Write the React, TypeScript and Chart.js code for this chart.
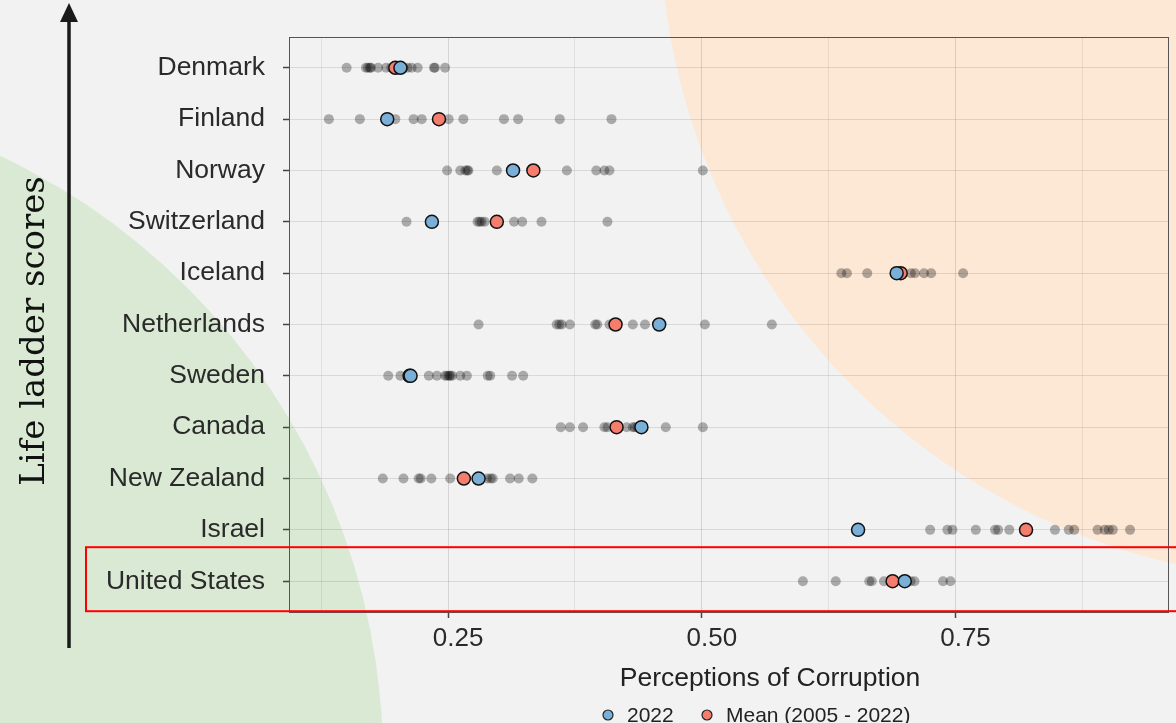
import React, { useEffect, useRef } from 'react';
import { Chart, registerables } from 'chart.js';
Chart.register(...registerables);

const countries = ['Denmark', 'Finland', 'Norway', 'Switzerland', 'Iceland', 'Netherlands', 'Sweden', 'Canada', 'New Zealand', 'Israel', 'United States'];

const value2022 = [0.203, 0.19, 0.314, 0.234, 0.692, 0.458, 0.213, 0.4405, 0.28, 0.654, 0.7];
const meanValue = [0.198, 0.241, 0.334, 0.298, 0.696, 0.415, 0.212, 0.416, 0.2655, 0.8195, 0.688];

const yearsDenmark = [0.15, 0.169, 0.171, 0.173, 0.174, 0.181, 0.189, 0.194, 0.199, 0.206, 0.21, 0.214, 0.22, 0.236, 0.237, 0.247];
const yearsFinland = [0.1325, 0.163, 0.19, 0.198, 0.216, 0.224, 0.241, 0.2505, 0.265, 0.305, 0.319, 0.36, 0.411];
const yearsNorway = [0.249, 0.262, 0.267, 0.269, 0.27, 0.298, 0.314, 0.334, 0.367, 0.396, 0.404, 0.409, 0.501];
const yearsSwitzerland = [0.209, 0.234, 0.279, 0.281, 0.283, 0.286, 0.298, 0.315, 0.323, 0.342, 0.407];
const yearsIceland = [0.6375, 0.643, 0.663, 0.692, 0.706, 0.71, 0.719, 0.726, 0.7575];
const yearsNetherlands = [0.28, 0.357, 0.3596, 0.362, 0.37, 0.395, 0.397, 0.409, 0.415, 0.432, 0.444, 0.458, 0.503, 0.569];
const yearsSweden = [0.191, 0.203, 0.213, 0.231, 0.239, 0.247, 0.249, 0.251, 0.252, 0.254, 0.262, 0.2685, 0.289, 0.2915, 0.313, 0.324];
const yearsCanada = [0.361, 0.37, 0.383, 0.404, 0.407, 0.416, 0.426, 0.432, 0.434, 0.4365, 0.4405, 0.4645, 0.501];
const yearsNewZealand = [0.1856, 0.206, 0.221, 0.223, 0.2335, 0.252, 0.2655, 0.28, 0.2885, 0.292, 0.294, 0.311, 0.3196, 0.333];
const yearsIsrael = [0.6536, 0.725, 0.742, 0.747, 0.77, 0.789, 0.792, 0.803, 0.848, 0.8616, 0.867, 0.89, 0.897, 0.901, 0.905, 0.922];
const yearsUnitedStates = [0.5996, 0.632, 0.665, 0.6675, 0.6795, 0.688, 0.7, 0.7058, 0.7096, 0.7377, 0.745];

const yearlyValues = [yearsDenmark, yearsFinland, yearsNorway, yearsSwitzerland, yearsIceland, yearsNetherlands, yearsSweden, yearsCanada, yearsNewZealand, yearsIsrael, yearsUnitedStates];

const xGridValues = [0.125, 0.25, 0.375, 0.5, 0.625, 0.75, 0.875];
const xTickValues = [0.25, 0.5, 0.75];
const xTickLabels = ['0.25', '0.50', '0.75'];

const legendLabels = ['2022', 'Mean (2005 - 2022)'];
const xTitle = 'Perceptions of Corruption';
const yTitle = 'Life ladder scores';
const highlighted = 'United States';

const BLUE = '#7aafd8';
const RED = '#f57d6d';
const SANS = "'Liberation Sans', Arial, Helvetica, sans-serif";

const decorPlugin = {
  id: 'decor',
  beforeDraw(chart: any) {
    const { ctx, width, height } = chart;
    ctx.save();
    ctx.fillStyle = '#f2f2f2';
    ctx.fillRect(0, 0, width, height);
    ctx.fillStyle = '#d9e9d3';
    ctx.beginPath();
    ctx.arc(-285, 760, 668, 0, Math.PI * 2);
    ctx.fill();
    ctx.fillStyle = '#fde7d5';
    ctx.beginPath();
    ctx.arc(1320, -80, 660, 0, Math.PI * 2);
    ctx.fill();
    ctx.restore();
  },
  afterDraw(chart: any) {
    const { ctx, chartArea } = chart;
    const yScale = chart.scales.y;
    ctx.save();
    // panel border
    ctx.strokeStyle = '#555';
    ctx.lineWidth = 1;
    ctx.strokeRect(Math.round(chartArea.left) + 0.5, Math.round(chartArea.top) + 0.5, Math.round(chartArea.right - chartArea.left), Math.round(chartArea.bottom - chartArea.top));

    // highlight rectangle
    const hi = countries.indexOf(highlighted);
    const yc = yScale.getPixelForValue(hi);
    ctx.strokeStyle = '#ff0000';
    ctx.lineWidth = 2;
    ctx.strokeRect(86, yc - 34, 1120, 64);

    // arrow
    ctx.strokeStyle = '#1a1a1a';
    ctx.fillStyle = '#1a1a1a';
    ctx.lineWidth = 3.5;
    ctx.beginPath();
    ctx.moveTo(69, 648);
    ctx.lineTo(69, 18);
    ctx.stroke();
    ctx.beginPath();
    ctx.moveTo(69, 3);
    ctx.lineTo(60, 22);
    ctx.lineTo(78, 22);
    ctx.closePath();
    ctx.fill();

    // y title
    ctx.save();
    ctx.translate(44, 331);
    ctx.rotate(-Math.PI / 2);
    ctx.font = "34px 'DejaVu Serif', serif";
    ctx.fillStyle = '#111';
    ctx.textAlign = 'center';
    ctx.textBaseline = 'alphabetic';
    ctx.fillText(yTitle, 0, 0);
    ctx.restore();

    // x title
    ctx.font = `26.5px ${SANS}`;
    ctx.fillStyle = '#222';
    ctx.textAlign = 'center';
    ctx.textBaseline = 'alphabetic';
    ctx.fillText(xTitle, 770, 686);

    // legend
    const dots = [608, 707];
    const colors = [BLUE, RED];
    ctx.font = `21px ${SANS}`;
    ctx.textAlign = 'left';
    legendLabels.forEach((lab, i) => {
      ctx.beginPath();
      ctx.arc(dots[i], 715, 5, 0, Math.PI * 2);
      ctx.fillStyle = colors[i];
      ctx.fill();
      ctx.strokeStyle = '#222';
      ctx.lineWidth = 1.2;
      ctx.stroke();
      ctx.fillStyle = '#222';
      ctx.fillText(lab, dots[i] + 19, 722);
    });
    ctx.restore();
  },
};

export default function App() {
  const ref = useRef<HTMLCanvasElement>(null);
  useEffect(() => {
    if (!ref.current) return;
    const greyPoints: { x: number; y: number }[] = [];
    yearlyValues.forEach((arr, i) => arr.forEach((v) => greyPoints.push({ x: v, y: i })));
    const chart = new Chart(ref.current, {
      type: 'scatter',
      data: {
        datasets: [
          {
            label: legendLabels[0],
            data: value2022.map((v, i) => ({ x: v, y: i })),
            backgroundColor: BLUE,
            borderColor: '#111',
            borderWidth: 1.5,
            pointRadius: 6.5,
          },
          {
            label: legendLabels[1],
            data: meanValue.map((v, i) => ({ x: v, y: i })),
            backgroundColor: RED,
            borderColor: '#111',
            borderWidth: 1.5,
            pointRadius: 6.5,
          },
          {
            label: 'years',
            data: greyPoints,
            backgroundColor: 'rgba(0,0,0,0.3)',
            borderWidth: 0,
            pointRadius: 5,
          },
        ],
      },
      options: {
        responsive: false,
        animation: false,
        devicePixelRatio: 1,
        layout: { padding: { left: 0, right: 6, top: 37, bottom: 0 } },
        plugins: { legend: { display: false }, tooltip: { enabled: false } },
        scales: {
          x: {
            type: 'linear',
            min: 0.0932,
            max: 0.9594,
            afterBuildTicks: (scale: any) => {
              scale.ticks = xGridValues.map((v) => ({ value: v }));
            },
            afterFit: (scale: any) => {
              scale.height = 111;
            },
            border: { display: false },
            grid: {
              color: (c: any) => (xTickValues.includes(c.tick?.value) ? 'rgba(0,0,0,0.12)' : 'rgba(0,0,0,0.07)'),
              tickColor: (c: any) => (xTickValues.includes(c.tick?.value) ? '#444' : 'rgba(0,0,0,0)'),
              tickLength: 6,
              tickWidth: 1.5,
            },
            ticks: {
              autoSkip: false,
              maxRotation: 0,
              padding: 5,
              labelOffset: 10,
              color: '#2a2a2a',
              font: { family: SANS, size: 26 },
              callback: (v: any) => {
                const k = xTickValues.indexOf(Number(v));
                return k >= 0 ? xTickLabels[k] : '';
              },
            },
          },
          y: {
            type: 'linear',
            reverse: true,
            min: -0.6,
            max: 10.6,
            afterBuildTicks: (scale: any) => {
              scale.ticks = countries.map((_, i) => ({ value: i }));
            },
            afterFit: (scale: any) => {
              scale.width = 289;
            },
            border: { display: false },
            grid: {
              color: 'rgba(0,0,0,0.1)',
              tickColor: '#444',
              tickLength: 6,
              tickWidth: 1.5,
            },
            ticks: {
              autoSkip: false,
              padding: 18,
              color: '#2a2a2a',
              font: { family: SANS, size: 26.5 },
              callback: (v: any) => countries[Number(v)] ?? '',
            },
          },
        },
      },
      plugins: [decorPlugin],
    });
    return () => chart.destroy();
  }, []);
  return (
    <div style={{ position: 'fixed', left: 0, top: 0, width: 1176, height: 723 }}>
      <canvas ref={ref} width={1176} height={723} style={{ display: 'block' }} />
    </div>
  );
}
